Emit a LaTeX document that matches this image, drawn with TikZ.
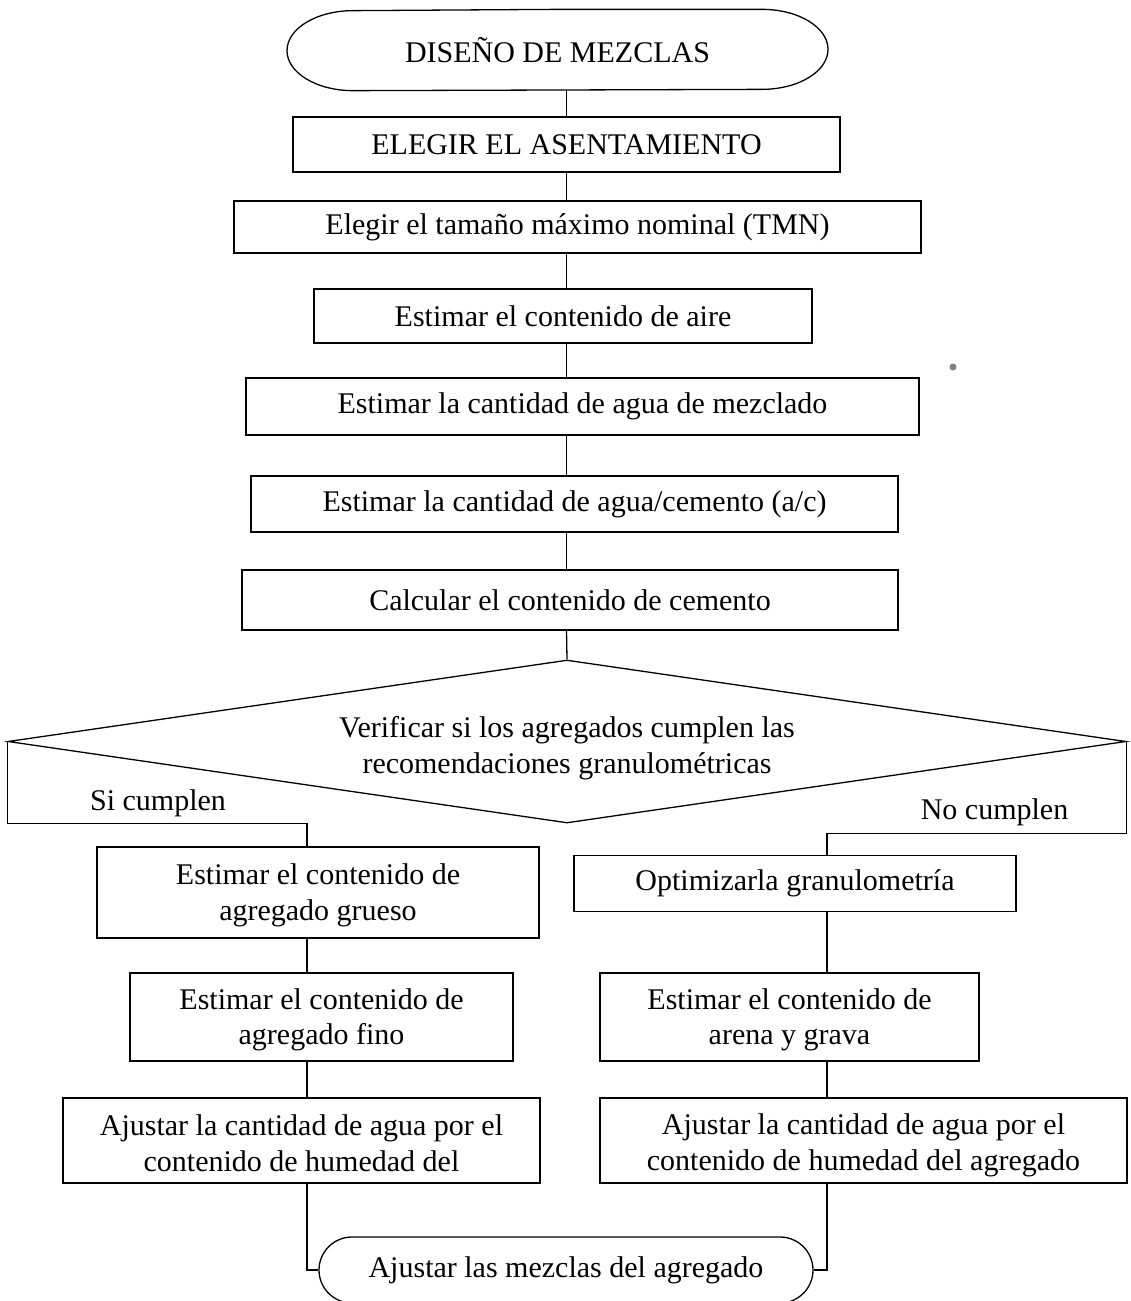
\documentclass[tikz,border=0pt]{standalone}
\usepackage{fontspec}
\setmainfont{Liberation Serif}
\usetikzlibrary{shapes.geometric,shapes.misc}

\tikzset{every picture/.style={line width=1.3pt}}
\tikzset{
  box/.style={draw,rectangle,inner sep=0pt,align=center,font=\fontsize{30}{35.5}\selectfont},
  term/.style={draw,rounded rectangle,inner sep=0pt,align=center,font=\fontsize{30}{35.5}\selectfont},
  oval/.style={rectangle,inner sep=0pt,align=center,font=\fontsize{30}{35.5}\selectfont},
  decision/.style={draw,diamond,aspect=6.86,inner sep=0pt,align=center,font=\fontsize{30}{35.5}\selectfont},
  txt/.style={inner sep=0pt,font=\fontsize{30}{35.5}\selectfont}
}

\begin{document}
\begin{tikzpicture}[x=1pt,y=1pt,yscale=-1,xscale=1]

        \useasboundingbox (0,0) rectangle (1130,1301);

        \coordinate (mx) at (566.5,0);
        \coordinate (lx) at (307,0);
        \coordinate (rx) at (827,0);

        % inicio con extremos elipticos
        \node[oval,minimum width=541pt,minimum height=80pt] (inicio) at (557.5,50){DISEÑO DE MEZCLAS};
        \draw[line join=round] (inicio.north) -- ([xshift=204.5pt]inicio.north)
          arc[start angle=-90,end angle=90,x radius=66,y radius=40]
          -- ([xshift=-204.5pt]inicio.south)
          arc[start angle=90,end angle=270,x radius=66,y radius=40] -- cycle;

        \node[box,minimum width=547pt,minimum height=55pt] (asentamiento) at (566.5,144.5){ELEGIR EL ASENTAMIENTO};
        \node[box,minimum width=687pt,minimum height=52pt] (tmn) at (577.5,227){Elegir el tamaño máximo nominal (TMN)};
        \node[box,minimum width=498pt,minimum height=54pt] (aire) at (563,316){Estimar el contenido de aire};
        \node[box,minimum width=673pt,minimum height=57pt] (agua) at (582.5,406.5){Estimar la cantidad de agua de mezclado};
        \node[box,minimum width=647pt,minimum height=56pt] (relacion) at (574.5,504){Estimar la cantidad de agua/cemento (a/c)};
        \node[box,minimum width=656pt,minimum height=60pt] (cemento) at (570,600){Calcular el contenido de cemento};
        \node[decision,minimum width=1118pt,minimum height=163pt] (verificar) at (567,741.5){\rule{0pt}{34pt}Verificar si los agregados cumplen las\\recomendaciones granulométricas};

        \node[txt] (si) at (158,803){Si cumplen};
        \node[txt] (no) at (994.5,812){No cumplen};

        \node[box,minimum width=442pt,minimum height=91pt] (grueso) at (318,892.5){\rule{0pt}{26pt}Estimar el contenido de\\agregado grueso};
        \node[box,minimum width=442pt,minimum height=56pt] (optimizar) at (795,883.5){Optimizarla granulometría};
        \node[box,minimum width=383pt,minimum height=88pt] (fino) at (321.5,1017){\rule{0pt}{26pt}Estimar el contenido de\\agregado fino};
        \node[box,minimum width=379pt,minimum height=88pt] (arena) at (789.5,1017){\rule{0pt}{26pt}Estimar el contenido de\\arena y grava};
        \node[box,minimum width=477pt,minimum height=85pt] (humedadA) at (301.5,1140.5){\rule{0pt}{26pt}Ajustar la cantidad de agua por el\\contenido de humedad del};
        \node[box,minimum width=527pt,minimum height=85pt] (humedadB) at (863.5,1140.5){\rule{0pt}{30pt}Ajustar la cantidad de agua por el\\contenido de humedad del agregado};
        \node[term,minimum width=494pt,minimum height=66pt] (fin) at (566,1270){Ajustar las mezclas del agregado};

        \draw (inicio.south -| mx) -- (asentamiento.north -| mx);
        \draw (asentamiento.south -| mx) -- (tmn.north -| mx);
        \draw (tmn.south -| mx) -- (aire.north -| mx);
        \draw (aire.south -| mx) -- (agua.north -| mx);
        \draw (agua.south -| mx) -- (relacion.north -| mx);
        \draw (relacion.south -| mx) -- (cemento.north -| mx);
        \draw (cemento.south -| mx) -- (verificar.north);

        \draw (verificar.west) -- ++(0,82) -| (grueso.north -| lx);
        \draw (verificar.east) -- ++(0,92) -| (optimizar.north -| rx);

        \draw (grueso.south -| lx) -- (fino.north -| lx);
        \draw (fino.south -| lx) -- (humedadA.north -| lx);
        \draw (optimizar.south -| rx) -- (arena.north -| rx);
        \draw (arena.south -| rx) -- (humedadB.north -| rx);

        \draw (humedadA.south -| lx) |- (fin.west);
        \draw (humedadB.south -| rx) |- (fin.east);

        \fill[gray] (953,367) circle (3.5);

        \end{tikzpicture}
\end{document}
